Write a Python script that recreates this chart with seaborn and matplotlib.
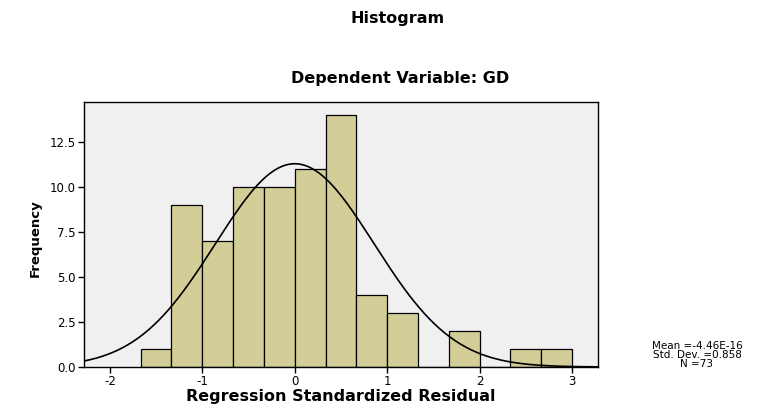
import numpy as np
import pandas as pd
import matplotlib
matplotlib.use("Agg")
import matplotlib.pyplot as plt
import seaborn as sns

# Histogram of regression standardized residuals
bin_edges = [-5/3, -4/3, -3/3, -2/3, -1/3, 0, 1/3, 2/3, 3/3, 4/3, 5/3, 6/3, 7/3, 8/3, 9/3]
counts = [1, 9, 7, 10, 10, 11, 14, 4, 3, 0, 2, 0, 1, 1]

res_mean = -4.46e-16
res_sd = 0.858
n_obs = 73

x_ticks = [-2, -1, 0, 1, 2, 3]
y_ticks = [0.0, 2.5, 5.0, 7.5, 10.0, 12.5]

centers = [(a + b) / 2 for a, b in zip(bin_edges[:-1], bin_edges[1:])]
df = pd.DataFrame({"residual": centers, "count": counts})

sns.set_style("white")
plt.rcParams["font.family"] = ["DejaVu Sans"]
plt.rcParams["text.color"] = "black"
plt.rcParams["axes.labelcolor"] = "black"

fig = plt.figure(figsize=(7.69, 4.13), dpi=100)
ax = fig.add_axes([0.1092, 0.1114, 0.6684, 0.6416])
ax.set_facecolor("#F0F0F0")

sns.histplot(data=df, x="residual", weights="count", bins=bin_edges,
             color="#D3CE97", alpha=1, edgecolor="black", linewidth=0.9, ax=ax)

# normal curve scaled to the histogram
bw = bin_edges[1] - bin_edges[0]
xs = np.linspace(-2.28, 3.28, 300)
ys = n_obs * bw * np.exp(-0.5 * ((xs - res_mean) / res_sd) ** 2) / (res_sd * np.sqrt(2 * np.pi))
ax.plot(xs, ys, color="black", linewidth=1.2)

ax.set_xlim(-2.28, 3.28)
ax.set_ylim(0, 14.75)
ax.set_xticks(x_ticks)
ax.set_xticklabels([str(t) for t in x_ticks])
ax.set_yticks(y_ticks)
ax.set_yticklabels([f"{t:.1f}" for t in y_ticks])
ax.tick_params(direction="out", length=4, width=1, labelsize=8.5, pad=2,
               bottom=True, left=True, colors="black")
for s in ax.spines.values():
    s.set_color("black")
    s.set_linewidth(1)

ax.set_xlabel("")
ax.set_ylabel("")
fig.text(341 / 769, 1 - 396 / 413, "Regression Standardized Residual", fontsize=11.5,
         fontweight="bold", ha="center", va="center")
fig.text(35 / 769, 1 - 238 / 413, "Frequency", rotation=90, fontsize=9.5,
         fontweight="bold", ha="center", va="center")

fig.text(398 / 769, 1 - 19 / 413, "Histogram", fontsize=11.5, fontweight="bold",
         ha="center", va="center")
fig.text(400 / 769, 1 - 78 / 413, "Dependent Variable: GD", fontsize=11.5,
         fontweight="bold", ha="center", va="center")

stats = [f"Mean =-4.46E-16", f"Std. Dev. ={res_sd:.3f}", f"N ={n_obs}"]
for i, line in enumerate(stats):
    fig.text(697 / 769, 1 - (346 + 8.8 * i) / 413, line, fontsize=7.5,
             ha="center", va="center")

fig.savefig("out.png", dpi=100)
